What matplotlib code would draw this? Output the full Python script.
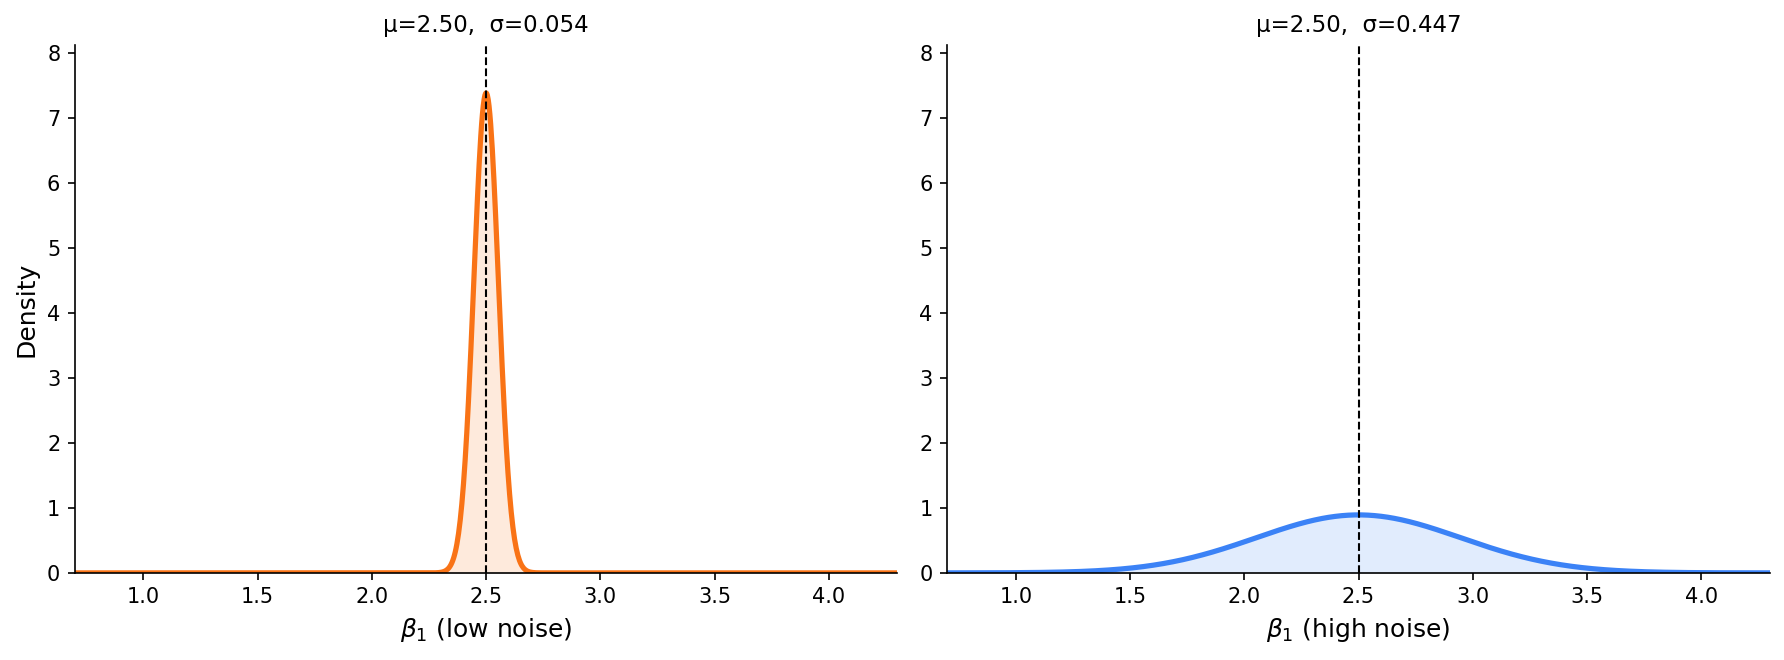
import numpy as np
import matplotlib
matplotlib.use("Agg")
import matplotlib.pyplot as plt

# Data: posterior parameters for beta_1 under two noise levels
labels = ["low noise", "high noise"]
mus = [2.50, 2.50]
sigmas = [0.054, 0.447]
colors = ["#f97316", "#3b82f6"]
xlim = (0.7, 4.3)

fig = plt.figure(figsize=(1784 / 150, 660 / 150), dpi=150)
ax1 = fig.add_axes([0.042, 0.132, 0.461, 0.80])
ax2 = fig.add_axes([0.531, 0.132, 0.461, 0.80])
axes = [ax1, ax2]

x = np.linspace(xlim[0], xlim[1], 1000)
peaks = [1 / (s * np.sqrt(2 * np.pi)) for s in sigmas]
ymax = max(peaks) * 1.1

for ax, lab, mu, sd, c in zip(axes, labels, mus, sigmas, colors):
    y = np.exp(-0.5 * ((x - mu) / sd) ** 2) / (sd * np.sqrt(2 * np.pi))
    ax.fill_between(x, y, color=c, alpha=0.15, linewidth=0)
    ax.plot(x, y, color=c, lw=2.5)
    ax.axvline(mu, color="black", ls="--", lw=1)
    ax.set_xlim(*xlim)
    ax.set_ylim(0, ymax)
    ax.set_title(f"μ={mu:.2f},  σ={sd:.3f}", fontsize=11)
    ax.set_xlabel(r"$\beta_1$ (" + lab + ")", fontsize=12)
    ax.spines["top"].set_visible(False)
    ax.spines["right"].set_visible(False)
    ax.tick_params(labelsize=10)

ax1.set_ylabel("Density", fontsize=12)

fig.savefig("out.png", dpi=150)
